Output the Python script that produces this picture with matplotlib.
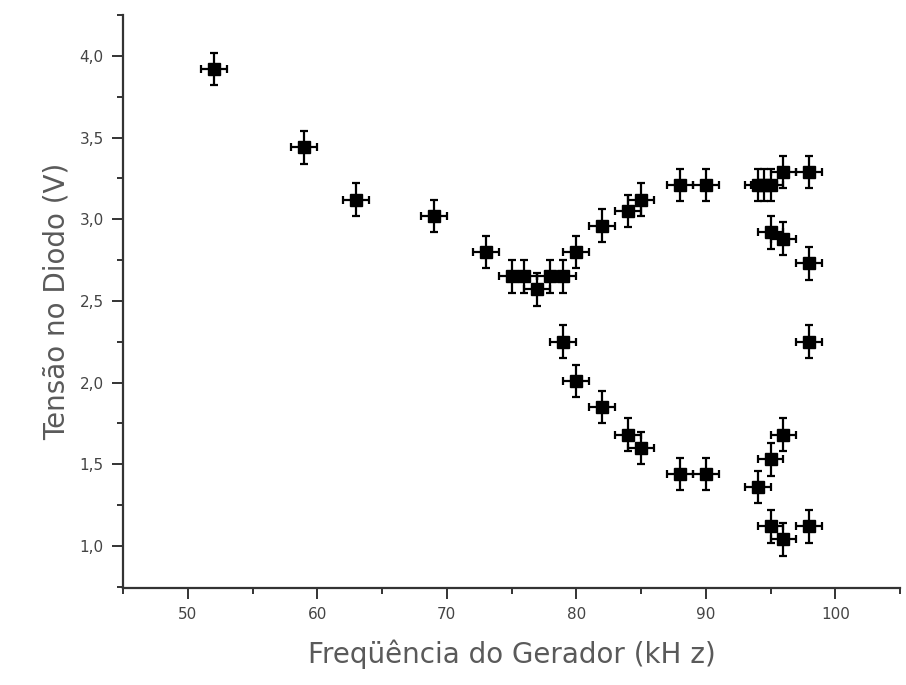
import matplotlib
matplotlib.use("Agg")
import matplotlib.pyplot as plt
from matplotlib.ticker import FuncFormatter, MultipleLocator

# upper branch (kHz, V)
freq_upper = [52, 59, 63, 69, 73, 75, 76, 77, 78, 79, 80, 82, 84, 85, 88, 90, 94, 94.5, 95, 96, 98]
volt_upper = [3.92, 3.44, 3.12, 3.02, 2.80, 2.65, 2.65, 2.57, 2.65, 2.65, 2.80, 2.96, 3.05, 3.12,
              3.21, 3.21, 3.21, 3.21, 3.21, 3.29, 3.29]

# period-doubled / chaotic branches
freq_mid = [95, 96, 98, 98]
volt_mid = [2.92, 2.88, 2.73, 2.25]

freq_lower = [79, 80, 82, 84, 85, 88, 90, 94, 95, 96, 95, 96, 98]
volt_lower = [2.25, 2.01, 1.85, 1.68, 1.60, 1.44, 1.44, 1.36, 1.53, 1.68, 1.12, 1.04, 1.12]

freq_err = 1.0
volt_err = 0.1

x_ticks = [50, 60, 70, 80, 90, 100]
y_ticks = [1.0, 1.5, 2.0, 2.5, 3.0, 3.5, 4.0]

plt.rcParams["font.family"] = ["DejaVu Sans"]

fig = plt.figure(figsize=(9.06, 6.85), dpi=100)
ax = fig.add_axes([0.1358, 0.1416, 0.8576, 0.8364])

for xs, ys in [(freq_upper, volt_upper), (freq_mid, volt_mid), (freq_lower, volt_lower)]:
    ax.errorbar(xs, ys, xerr=freq_err, yerr=volt_err, fmt="s", color="black",
                markersize=8, elinewidth=1.6, capsize=3, capthick=1.6, ls="none")

ax.set_xlim(45, 105)
ax.set_ylim(0.742, 4.25)
ax.set_xticks(x_ticks)
ax.set_yticks(y_ticks)
ax.xaxis.set_minor_locator(MultipleLocator(5))
ax.yaxis.set_minor_locator(MultipleLocator(0.25))
ax.yaxis.set_major_formatter(FuncFormatter(lambda v, p: f"{v:.1f}".replace(".", ",")))

for side in ["top", "right"]:
    ax.spines[side].set_visible(False)
for side in ["left", "bottom"]:
    ax.spines[side].set_linewidth(1.6)
    ax.spines[side].set_color("#333333")

ax.tick_params(which="major", direction="out", length=8, width=1.4, color="#333333",
               labelsize=11, labelcolor="#444444", pad=6)
ax.tick_params(which="minor", direction="out", length=4, width=1.4, color="#333333")

ax.set_xlabel("Freqüência do Gerador (kH z)", fontsize=20, color="#5a5a5a", labelpad=12)
ax.set_ylabel("Tensão no Diodo (V)", fontsize=20, color="#5a5a5a", labelpad=6)

fig.savefig("out.png", dpi=100)
